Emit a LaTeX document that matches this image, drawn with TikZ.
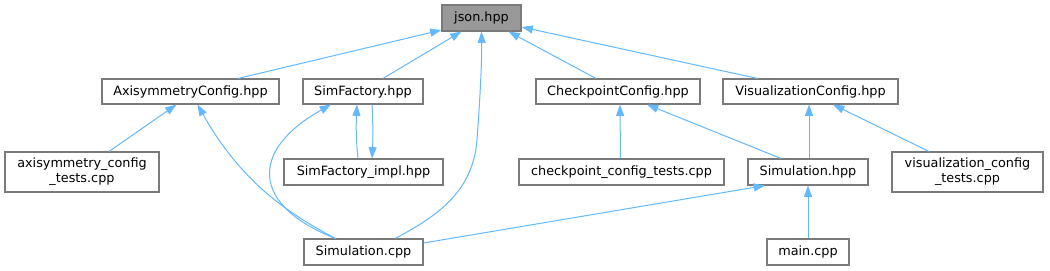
\documentclass[tikz,border=0pt]{standalone}
\usepackage{fontspec}
\setmainfont{DejaVu Sans}
\usetikzlibrary{arrows.meta,calc}
\definecolor{edgec}{HTML}{63B8FF}
\definecolor{boxc}{HTML}{7A7A7A}
\definecolor{rootc}{HTML}{999999}
\begin{document}
\begin{tikzpicture}[x=0.75pt,y=-0.75pt,
  box/.style={draw=boxc,line width=0.8pt,fill=white,inner sep=0pt,align=center,font=\fontsize{9.6pt}{11.2pt}\selectfont},
  dep/.style={draw=edgec,line width=0.75pt,-{Triangle[length=8.5pt,width=6pt]}}]
\useasboundingbox (0,0) rectangle (1050,271);
\node[box,fill=rootc,minimum width=59.25pt,minimum height=19.5pt] (json) at (481.5,18) {json.hpp};
\node[box,minimum width=132.75pt,minimum height=18.75pt] (axis) at (190.5,91.5) {AxisymmetryConfig.hpp};
\node[box,minimum width=90pt,minimum height=18.75pt] (simf) at (363,91.5) {SimFactory.hpp};
\node[box,minimum width=123pt,minimum height=18.75pt] (check) at (618,91.5) {CheckpointConfig.hpp};
\node[box,minimum width=131.25pt,minimum height=18.75pt] (vis) at (810.5,91.5) {VisualizationConfig.hpp};
\node[box,minimum width=115.5pt,minimum height=30pt] (axt) at (82,172) {axisymmetry\_config\\\_tests.cpp};
\node[box,minimum width=119.25pt,minimum height=19.5pt] (impl) at (363.5,172) {SimFactory\_impl.hpp};
\node[box,minimum width=153.75pt,minimum height=19.5pt] (ckt) at (621.5,172) {checkpoint\_config\_tests.cpp};
\node[box,minimum width=90pt,minimum height=19.5pt] (simh) at (808,172) {Simulation.hpp};
\node[box,minimum width=113.25pt,minimum height=30pt] (vist) at (967.5,172) {visualization\_config\\\_tests.cpp};
\node[box,minimum width=89.25pt,minimum height=19.5pt] (simc) at (363.5,252) {Simulation.cpp};
\node[box,minimum width=61.5pt,minimum height=19.5pt] (mainc) at (808,252) {main.cpp};
% edges to json
\draw[dep] ($(axis.north)+(47.5,0)$) -- ($(json.south west)+(0,-1.5)$);
\draw[dep] ($(simf.north)+(20,0)$) -- ($(json.south)+(-20,0)$);
\draw[dep] ($(check.north)+(-22,0)$) -- ($(json.south)+(27,0)$);
\draw[dep] ($(vis.north)+(-53,0)$) -- ($(json.east)+(0,9)$);
\draw[dep] ($(simc.north)+(31.5,0)$) .. controls (440,215) and (473,190) .. (477,140) .. controls (480,100) and (482,60) .. (json.south);
% second level
\draw[dep] ($(axt.north)+(27,0)$) -- ($(axis.south)+(-14,0)$);
\draw[dep] ($(simc.north)+(-28,0)$) .. controls (285,212) and (240,180) .. ($(axis.south)+(7,0)$);
\draw[dep] ($(simc.north)+(-28,0)$) .. controls (250,205) and (250,150) .. ($(simf.south)+(-32,0)$);
\draw[dep] ($(impl.north)+(-5.5,0)$) .. controls (356,140) and (356,125) .. ($(simf.south)+(-6,0)$);
\draw[dep] ($(simf.south)+(9,0)$) .. controls (373,120) and (373,140) .. ($(impl.north)+(8.5,0)$);
\draw[dep] ($(ckt.north)+(-1,0)$) -- ($(check.south)+(2,0)$);
\draw[dep] ($(simh.north)+(-27,0)$) -- ($(check.south)+(29,0)$);
\draw[dep] ($(simh.north)+(1,0)$) -- ($(vis.south)+(-1.5,0)$);
\draw[dep] ($(vist.north)+(-38.5,0)$) -- ($(vis.south)+(22.5,0)$);
\draw[dep] ($(simc.east)+(0,-9)$) -- ($(simh.south)+(-43,0)$);
\draw[dep] (mainc.north) -- (simh.south);
\end{tikzpicture}
\end{document}
